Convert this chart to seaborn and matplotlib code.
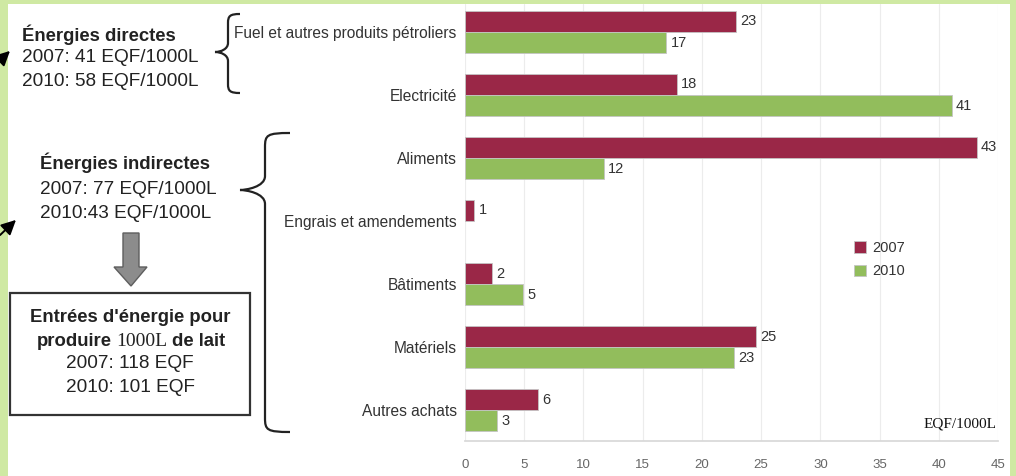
import matplotlib
matplotlib.use("Agg")
import matplotlib.pyplot as plt
import seaborn as sns
import pandas as pd
from matplotlib.patches import Rectangle, Polygon, PathPatch
from matplotlib.path import Path

categories = ["Fuel et autres produits pétroliers", "Electricité", "Aliments",
              "Engrais et amendements", "Bâtiments", "Matériels", "Autres achats"]
values_2007 = [22.9, 17.9, 43.2, 0.8, 2.3, 24.6, 6.2]
values_2010 = [17.0, 41.1, 11.7, 0.0, 4.9, 22.7, 2.7]
years = ["2007", "2010"]
xticks = [0, 5, 10, 15, 20, 25, 30, 35, 40, 45]

df = pd.DataFrame({
    "cat": categories * 2,
    "val": values_2007 + values_2010,
    "year": [years[0]] * len(categories) + [years[1]] * len(categories),
})

sns.set_theme(style="white")
plt.rcParams["font.family"] = ["Liberation Sans", "DejaVu Sans"]

W, H = 1016, 476
fig = plt.figure(figsize=(W / 100, H / 100), dpi=100)
fig.patch.set_facecolor("#cfe9a3")

# overlay axes in pixel coordinates
ov = fig.add_axes([0, 0, 1, 1], zorder=0)
ov.set_xlim(0, W)
ov.set_ylim(H, 0)
ov.axis("off")
ov.patch.set_alpha(0)
ov.add_patch(Rectangle((8, 4), 1002, 480, facecolor="white", edgecolor="none"))

# main bar axes
left, right, top, bottom = 465, 998, 3.6, 441
ax = fig.add_axes([left / W, 1 - bottom / H, (right - left) / W, (bottom - top) / H], zorder=1)
c07, c10 = "#9a2747", "#92bd5c"
sns.barplot(data=df, x="val", y="cat", hue="year", orient="h", palette=[c07, c10],
            width=0.67, dodge=True, ax=ax, edgecolor="#c4c4c4", linewidth=0.6,
            saturation=1, legend=True)
ax.set_xlim(0, 45)
ax.set_ylim(6.49, -0.45)
ax.set_xticks(xticks)
ax.set_xticklabels([str(t) for t in xticks], fontsize=9.5, color="#666666")
ax.tick_params(axis="x", length=0, pad=13)
ax.tick_params(axis="y", length=0, pad=6, labelsize=11.2, labelcolor="#333333")
ax.set_xlabel("")
ax.set_ylabel("")
ax.grid(axis="x", color="#ececec", linewidth=0.8)
ax.set_axisbelow(True)
for s in ["top", "right", "left"]:
    ax.spines[s].set_visible(False)
ax.spines["bottom"].set_color("#d8d8d8")

for cont in ax.containers:
    labels = []
    for bar in cont:
        w = bar.get_width()
        if w <= 0:
            bar.set_linewidth(0)
            labels.append("")
        else:
            labels.append(f"{w:.0f}")
    ax.bar_label(cont, labels=labels, padding=3, fontsize=10.5, color="#333333")

handles, labs = ax.get_legend_handles_labels()
ax.legend(handles, labs, loc="upper left", bbox_to_anchor=(841 / W, 1 - 228 / H),
          bbox_transform=fig.transFigure, frameon=False, fontsize=10.5,
          handlelength=0.8, handleheight=0.8, handletextpad=0.45, labelspacing=0.62,
          labelcolor="#333333")

ax.text(0.998, 0.025, "EQF/1000L", transform=ax.transAxes, ha="right", va="bottom",
        fontsize=11, family=["Liberation Serif", "DejaVu Serif"], color="#111111")

# left annotations
tc = "#222222"
fs = 13.7
fsb = 13.3
ov.text(22, 35, "Énergies directes", fontsize=fsb, fontweight="bold", color=tc, va="center")
ov.text(22, 58, "2007: 41 EQF/1000L", fontsize=fs, color=tc, va="center")
ov.text(22, 81, "2010: 58 EQF/1000L", fontsize=fs, color=tc, va="center")
ov.text(40, 163, "Énergies indirectes", fontsize=fsb, fontweight="bold", color=tc, va="center")
ov.text(40, 190, "2007: 77 EQF/1000L", fontsize=fs, color=tc, va="center")
ov.text(40, 213, "2010:43 EQF/1000L", fontsize=fs, color=tc, va="center")

# braces
def brace(x_end, y_top, x_v, x_tip, y_tip, y_bot, r):
    verts = [(x_end, y_top),
             (x_v + 2, y_top), (x_v, y_top + 2), (x_v, y_top + r),
             (x_v, y_tip - r),
             (x_v, y_tip - 3), (x_tip + 6, y_tip), (x_tip, y_tip),
             (x_tip + 6, y_tip), (x_v, y_tip + 3), (x_v, y_tip + r),
             (x_v, y_bot - r),
             (x_v, y_bot - 2), (x_v + 2, y_bot), (x_end, y_bot)]
    codes = [Path.MOVETO, Path.CURVE4, Path.CURVE4, Path.CURVE4, Path.LINETO,
             Path.CURVE4, Path.CURVE4, Path.CURVE4, Path.CURVE4, Path.CURVE4, Path.CURVE4,
             Path.LINETO, Path.CURVE4, Path.CURVE4, Path.CURVE4]
    ov.add_patch(PathPatch(Path(verts, codes), facecolor="none", edgecolor="#222222", lw=1.6))

brace(240, 14, 228, 215, 52, 93, 9)
brace(290, 133, 265, 240, 190, 432, 14)

# gray arrow
ov.add_patch(Polygon([(123, 233), (139, 233), (139, 267), (147, 267), (131, 286),
                      (114, 267), (123, 267)], closed=True, facecolor="#8c8c8c",
                     edgecolor="#5e5e5e", lw=1))

# summary box
ov.add_patch(Rectangle((10, 293), 240, 122, facecolor="white", edgecolor="#333333", lw=1.6))
ov.text(130, 318, "Entrées d'énergie pour", fontsize=fsb, fontweight="bold", color=tc,
        ha="center", va="center")
parts = [("produire", dict(fontweight="bold")),
         ("1000L", dict(family=["Liberation Serif", "DejaVu Serif"], fontsize=14)),
         ("de lait", dict(fontweight="bold"))]
renderer = fig.canvas.get_renderer()
objs = []
for txt, kw in parts:
    opts = dict(fontsize=fsb, color=tc, va="center")
    opts.update(kw)
    objs.append(ov.text(0, 341, txt, **opts))
widths = [o.get_window_extent(renderer).width for o in objs]
gap = 5
total = sum(widths) + gap * (len(widths) - 1)
x = 131 - total / 2
for o, w in zip(objs, widths):
    o.set_x(x)
    x += w + gap
ov.text(130, 364, "2007: 118 EQF", fontsize=fs, color=tc, ha="center", va="center")
ov.text(130, 387, "2010: 101 EQF", fontsize=fs, color=tc, ha="center", va="center")

# small black arrowheads at the left edge
ov.annotate("", xy=(12, 49), xytext=(-8, 68),
            arrowprops=dict(arrowstyle="-|>", color="black", lw=1.4, mutation_scale=22))
ov.annotate("", xy=(18, 218), xytext=(-2, 237),
            arrowprops=dict(arrowstyle="-|>", color="black", lw=1.4, mutation_scale=22))

fig.savefig("out.png", dpi=100, facecolor=fig.get_facecolor())
